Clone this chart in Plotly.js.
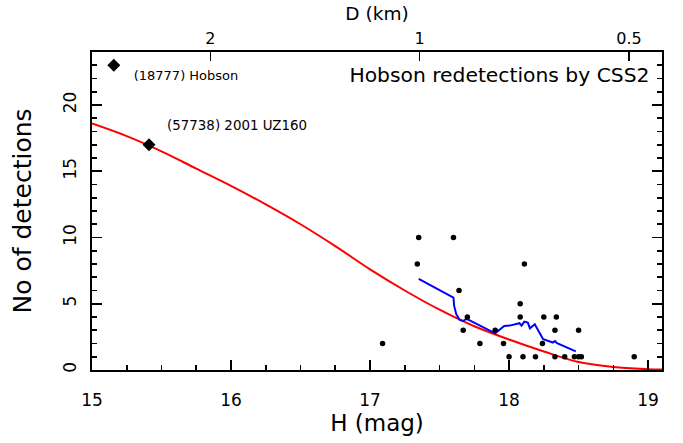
<!DOCTYPE html>
<html>
<head>
<meta charset="utf-8">
<script src="https://cdn.plot.ly/plotly-3.0.1.min.js"></script>
<style>html,body{margin:0;padding:0;background:#fff;}#chart{width:683px;height:443px;}</style>
</head>
<body>
<div id="chart"></div>
<script>
// Model curve (red)
const modelH = [15.0, 15.25, 15.5, 15.75, 16.0, 16.25, 16.5, 16.75, 17.0, 17.25, 17.5, 17.75, 18.0, 18.25, 18.5, 18.75, 19.0, 19.1];
const modelN = [18.6, 17.65, 16.5, 15.2, 13.9, 12.5, 11.0, 9.35, 7.6, 6.0, 4.55, 3.3, 2.3, 1.4, 0.6, 0.22, 0.06, 0.03];

// Running mean (blue)
const meanH = [17.35, 17.60, 17.605, 17.62, 17.645, 17.67, 17.69, 17.71, 17.90, 17.965, 18.005, 18.075, 18.09, 18.11, 18.135, 18.15, 18.185, 18.22, 18.245, 18.315, 18.33, 18.345, 18.48];
const meanN = [6.88, 5.47, 4.84, 4.21, 3.78, 3.70, 3.85, 3.78, 2.77, 3.33, 3.35, 3.53, 3.35, 3.65, 3.58, 3.15, 3.45, 2.77, 2.32, 2.07, 2.19, 2.02, 1.41];

// Individual asteroids (black dots)
const dotH = [17.09, 17.35, 17.34, 17.60, 17.64, 17.67, 17.70, 17.79, 17.90, 17.96, 18.00, 18.08, 18.08, 18.11, 18.10, 18.19, 18.24, 18.25, 18.33, 18.34, 18.33, 18.40, 18.47, 18.50, 18.52, 18.50, 18.90];
const dotN = [2, 10, 8, 10, 6, 3, 4, 2, 3, 2, 1, 5, 4, 8, 1, 1, 2, 4, 3, 4, 1, 1, 1, 1, 1, 3, 1];

// Named objects (diamonds)
const namedH = [15.157, 15.41];
const namedN = [23, 17];
const namedLabels = ["(18777) Hobson", "(57738) 2001 UZ160"];
const labelH = [15.30, 15.54];
const labelN = [22.15, 18.37];

// Plot title
const titleText = "Hobson redetections by CSS2";
const titleH = 19.01;
const titleN = 22.15;

// Top axis: diameter
const diamKm = [2, 1, 0.5];
const diamLabels = ["2", "1", "0.5"];
const hAtOneKm = 17.357;
const diamH = diamKm.map(d => hAtOneKm - 5 * Math.log10(d));

const FONT = "DejaVu Sans";
const HRANGE = [15, 19.1];
const NRANGE = [0, 24];
const hidden = {type: 'scatter', mode: 'markers', marker: {opacity: 0, size: 1}};
const txt = (size) => ({family: FONT, size: size, color: '#000'});

const traces = [
  {x: modelH, y: modelN, type: 'scatter', mode: 'lines', line: {color: '#ff0000', width: 2, shape: 'spline', smoothing: 1}},
  {x: meanH, y: meanN, type: 'scatter', mode: 'lines', line: {color: '#0000ff', width: 2}},
  {x: dotH, y: dotN, type: 'scatter', mode: 'markers', marker: {color: '#000', size: 5.5}},
  {x: namedH, y: namedN, type: 'scatter', mode: 'markers', marker: {color: '#000', size: 10, symbol: 'diamond'}},
  {x: [labelH[0]], y: [labelN[0]], type: 'scatter', mode: 'text', text: [namedLabels[0]], textposition: 'middle right', textfont: txt(13), cliponaxis: false},
  {x: [labelH[1]], y: [labelN[1]], type: 'scatter', mode: 'text', text: [namedLabels[1]], textposition: 'middle right', textfont: txt(13.4), cliponaxis: false},
  {x: [titleH], y: [titleN], type: 'scatter', mode: 'text', text: [titleText], textposition: 'middle left', textfont: txt(20.3), cliponaxis: false},
  Object.assign({x: diamH, y: [1, 1, 1], xaxis: 'x2'}, hidden),
  Object.assign({x: diamH, y: [1, 1, 1], xaxis: 'x4'}, hidden),
  Object.assign({x: [16, 17], y: [1, 1], xaxis: 'x3'}, hidden),
  Object.assign({x: [16, 17], y: [1, 1], yaxis: 'y2'}, hidden)
];

const base = {range: HRANGE, showgrid: false, zeroline: false};
const ybase = {range: NRANGE, showgrid: false, zeroline: false};
const layout = {
  width: 683, height: 443,
  margin: {l: 92, r: 21, t: 52, b: 73},
  showlegend: false,
  xaxis: Object.assign({}, base, {
    showline: true, linecolor: '#000', linewidth: 2, mirror: true,
    ticks: 'inside', ticklen: 10, tickwidth: 1.6, tickcolor: '#000', dtick: 1, tick0: 15,
    minor: {dtick: 0.25, ticks: 'inside', ticklen: 5, tickwidth: 1.6, tickcolor: '#000', showgrid: false},
    showticklabels: false
  }),
  xaxis3: Object.assign({}, base, {
    overlaying: 'x', side: 'bottom', showline: false, dtick: 1, tick0: 15,
    ticks: 'outside', ticklen: 15, tickcolor: 'rgba(0,0,0,0)', tickfont: txt(17),
    title: {text: 'H (mag)', font: txt(23), standoff: 0}
  }),
  xaxis2: Object.assign({}, base, {
    overlaying: 'x', side: 'top', showline: false,
    tickmode: 'array', tickvals: diamH, ticktext: diamLabels,
    ticks: 'inside', ticklen: 9, tickwidth: 1.6, tickcolor: '#000', showticklabels: false
  }),
  xaxis4: Object.assign({}, base, {
    overlaying: 'x', side: 'top', showline: false,
    tickmode: 'array', tickvals: diamH, ticktext: diamLabels,
    ticks: 'outside', ticklen: 1, tickcolor: 'rgba(0,0,0,0)', tickfont: txt(16),
    title: {text: 'D (km)', font: txt(18.5), standoff: 3}
  }),
  yaxis: Object.assign({}, ybase, {
    showline: true, linecolor: '#000', linewidth: 2, mirror: 'ticks',
    ticks: 'inside', ticklen: 10, tickwidth: 1.6, tickcolor: '#000', dtick: 5, tick0: 0,
    minor: {dtick: 1, ticks: 'inside', ticklen: 5, tickwidth: 1.6, tickcolor: '#000', showgrid: false},
    showticklabels: false
  }),
  yaxis2: Object.assign({}, ybase, {
    overlaying: 'y', side: 'left', showline: false,
    dtick: 5, tick0: 0, ticks: 'outside', ticklen: 8, tickcolor: 'rgba(0,0,0,0)',
    tickangle: -90, tickfont: txt(17),
    title: {text: 'No of detections', font: txt(25), standoff: 21}
  })
};

Plotly.newPlot('chart', traces, layout, {staticPlot: true});
</script>
</body>
</html>
